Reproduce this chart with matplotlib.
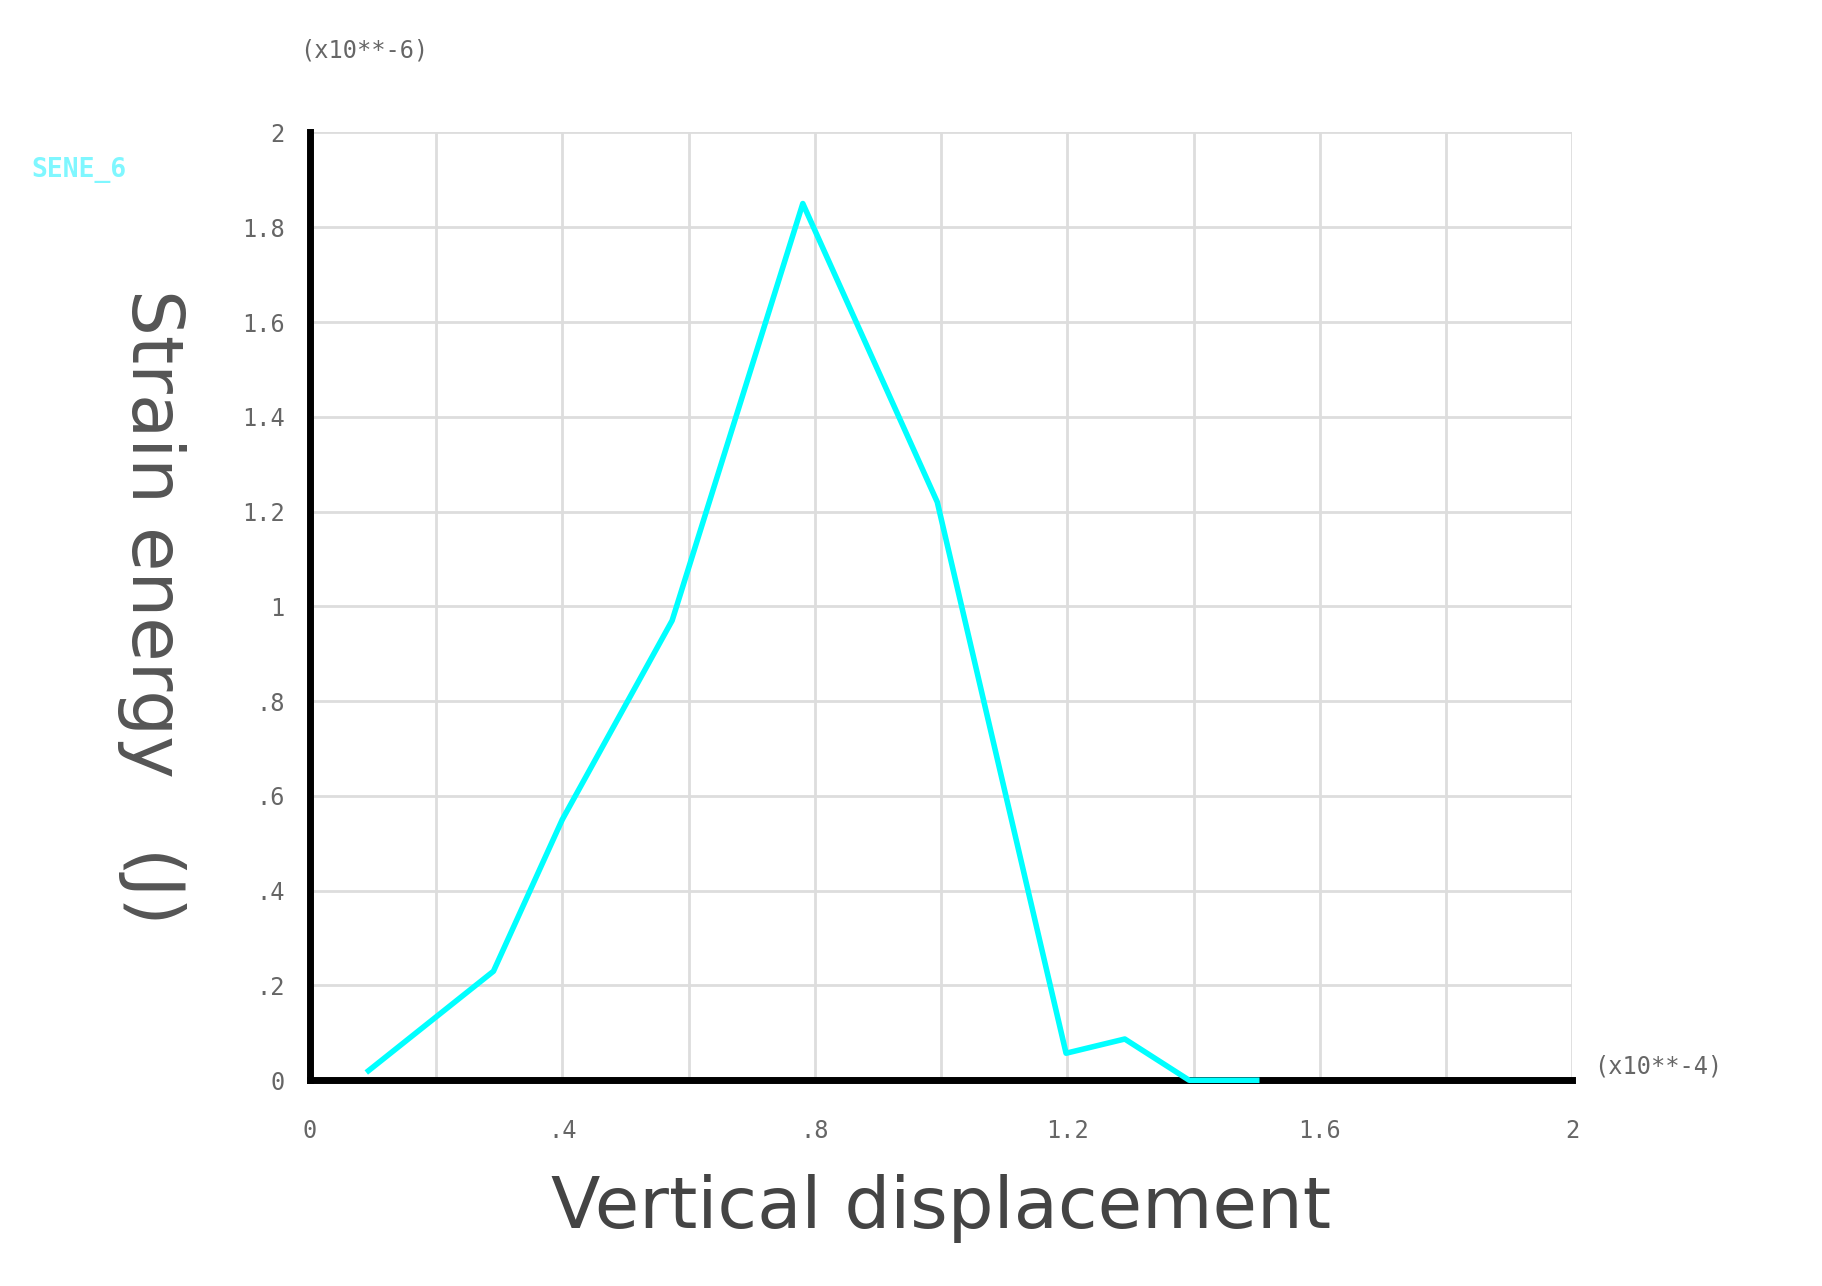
import matplotlib
matplotlib.use("Agg")
import matplotlib.pyplot as plt

x_vals = [0.093, 0.291, 0.40, 0.574, 0.781, 0.994, 1.198, 1.291, 1.393, 1.5]
y_vals = [0.02, 0.23, 0.55, 0.97, 1.85, 1.22, 0.057, 0.087, 0.0, 0.0]
x_ticks = [0, 0.4, 0.8, 1.2, 1.6, 2]
x_tick_labels = ["0", ".4", ".8", "1.2", "1.6", "2"]
y_ticks = [0, 0.2, 0.4, 0.6, 0.8, 1.0, 1.2, 1.4, 1.6, 1.8, 2.0]
y_tick_labels = ["0", ".2", ".4", ".6", ".8", "1", "1.2", "1.4", "1.6", "1.8", "2"]

fig = plt.figure(figsize=(18.22, 12.86), dpi=100)
ax = fig.add_axes([0.170, 0.160, 0.693, 0.737])
ax.plot(x_vals, y_vals, color="#00ffff", lw=4, zorder=3, clip_on=False)
ax.set_xlim(0, 2)
ax.set_ylim(0, 2)
ax.set_xticks(x_ticks)
ax.set_xticklabels(x_tick_labels)
ax.set_xticks([i * 0.2 for i in range(11)], minor=True)
ax.set_yticks(y_ticks)
ax.set_yticklabels(y_tick_labels)
ax.grid(True, which="both", color="#dddddd", lw=2)
ax.set_axisbelow(True)
for s in ["top", "right"]:
    ax.spines[s].set_visible(False)
for s in ["left", "bottom"]:
    ax.spines[s].set_linewidth(5)
    ax.spines[s].set_color("black")
ax.tick_params(which="both", length=0, labelsize=17, labelcolor="#666666")
ax.tick_params(axis="x", pad=28)
ax.tick_params(axis="y", pad=18)
for lab in ax.get_xticklabels() + ax.get_yticklabels():
    lab.set_family("DejaVu Sans Mono")
ax.set_xlabel("Vertical displacement", fontsize=52, color="#444444", labelpad=22)
ax.set_ylabel("Strain energy   (J)", fontsize=52, color="#555555", labelpad=90, rotation=270, va="bottom")
fig.text(0.20, 0.955, "(x10**-6)", family="DejaVu Sans Mono", fontsize=17, color="#666666", ha="center")
fig.text(0.875, 0.165, "(x10**-4)", family="DejaVu Sans Mono", fontsize=17, color="#666666", ha="left")
fig.text(0.017, 0.862, "SENE_6", family="DejaVu Sans Mono", fontsize=19, color="#7ff7ff", weight="bold")
fig.savefig("out.png", dpi=100, facecolor="white")
